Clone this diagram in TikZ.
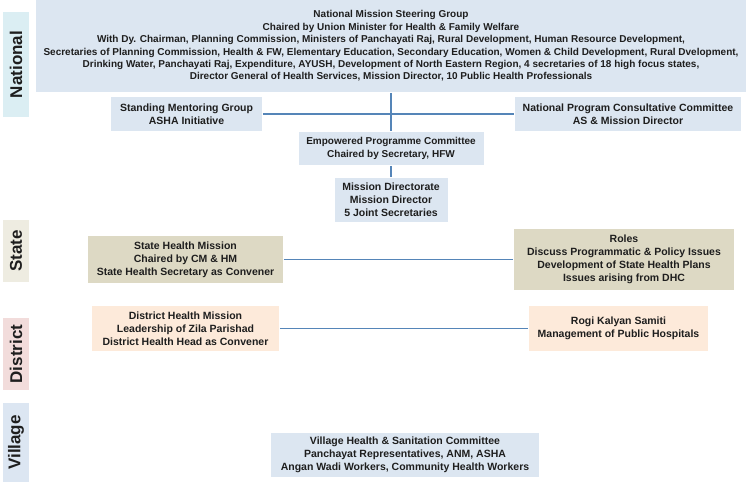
\documentclass[tikz,border=0pt]{standalone}
\usepackage{fontspec}
\setmainfont{Liberation Sans}
\usetikzlibrary{positioning}
\definecolor{cline}{HTML}{5585B8}
\definecolor{cnat}{HTML}{DCE6F1}
\definecolor{cstate}{HTML}{DDD9C4}
\definecolor{cdist}{HTML}{FDEADA}
\definecolor{snat}{HTML}{DBEEF3}
\definecolor{sstate}{HTML}{EEECE1}
\definecolor{sdist}{HTML}{F2DCDB}
\definecolor{svill}{HTML}{DCE6F2}
\definecolor{ctext}{HTML}{1E1E1E}
\tikzset{
  every picture/.style={line width=1.5pt},
  box/.style={fill=#1, text=ctext, align=center, inner sep=0pt,
    font=\bfseries\fontsize{10.5}{12.8}\selectfont},
  box/.default=cnat,
  small/.style={font=\bfseries\fontsize{10}{12.4}\selectfont},
  level/.style={fill=#1, text=ctext, rotate=90, inner sep=0pt,
    font=\bfseries\fontsize{17}{20}\selectfont},
  link/.style={draw=cline, line width=1.6pt},
}

\begin{document}
\begin{tikzpicture}[x=1pt, y=-1pt]
  \useasboundingbox (0,0) rectangle (748,482);
  % level strips on the left
  \node[level=snat, minimum width=105, minimum height=26] (lnat) at (16,64.5) {National};
  \node[level=sstate, minimum width=62, minimum height=26] (lstate) at (16,251) {State};
  \node[level=sdist, minimum width=72, minimum height=26] (ldist) at (16,354) {District};
  \node[level=svill, minimum width=79, minimum height=26] (lvill) at (16,442.5) {Village};
  % national
  \node[box, small, minimum width=710, minimum height=92] (nmsg) at (391,46) {National Mission Steering Group\\
    Chaired by Union Minister for Health \& Family Welfare\\
    With Dy. Chairman, Planning Commission, Ministers of Panchayati Raj, Rural Development, Human Resource Development,\\
    Secretaries of Planning Commission, Health \& FW, Elementary Education, Secondary Education, Women \& Child Development, Rural Dvelopment,\\
    Drinking Water, Panchayati Raj, Expenditure, AYUSH, Development of North Eastern Region, 4 secretaries of 18 high focus states,\\
    Director General of Health Services, Mission Director, 10 Public Health Professionals};
  \node[box, minimum width=151, minimum height=34] (smg) at (186.5,114) {Standing Mentoring Group\\ASHA Initiative};
  \node[box, minimum width=226, minimum height=34] (npcc) at (628,114) {National Program Consultative Committee\\AS \& Mission Director};
  \node[box, small, minimum width=185, minimum height=33] (epc) at (391,148.5) {Empowered Programme Committee\\Chaired by Secretary, HFW};
  \node[box, minimum width=113, minimum height=44] (md) at (391,200) {Mission Directorate\\Mission Director\\5 Joint Secretaries};
  \draw[link] (nmsg.south) -- (epc.north);
  \draw[link] (smg.east) -- (npcc.west);
  \draw[link] (epc.south) -- (md.north);
  % state
  \node[box=cstate, minimum width=195, minimum height=47] (shm) at (185.5,259.5) {State Health Mission\\Chaired by CM \& HM\\State Health Secretary as Convener};
  \node[box=cstate, minimum width=220, minimum height=61] (roles) at (624,259.5) {Roles\\Discuss Programmatic \& Policy Issues\\Development of State Health Plans\\Issues arising from DHC};
  \draw[link] (shm.east) -- (roles.west);
  % district
  \node[box=cdist, minimum width=187, minimum height=45] (dhm) at (185.5,328.5) {District Health Mission\\Leadership of Zila Parishad\\District Health Head as Convener};
  \node[box=cdist, minimum width=179, minimum height=45] (rks) at (618.5,328.5) {Rogi Kalyan Samiti\\Management of Public Hospitals};
  \draw[link] (dhm.east) -- (rks.west);
  % village
  \node[box, minimum width=268, minimum height=44] (vhsc) at (405,455) {Village Health \& Sanitation Committee\\Panchayat Representatives, ANM, ASHA\\Angan Wadi Workers, Community Health Workers};
\end{tikzpicture}
\end{document}
